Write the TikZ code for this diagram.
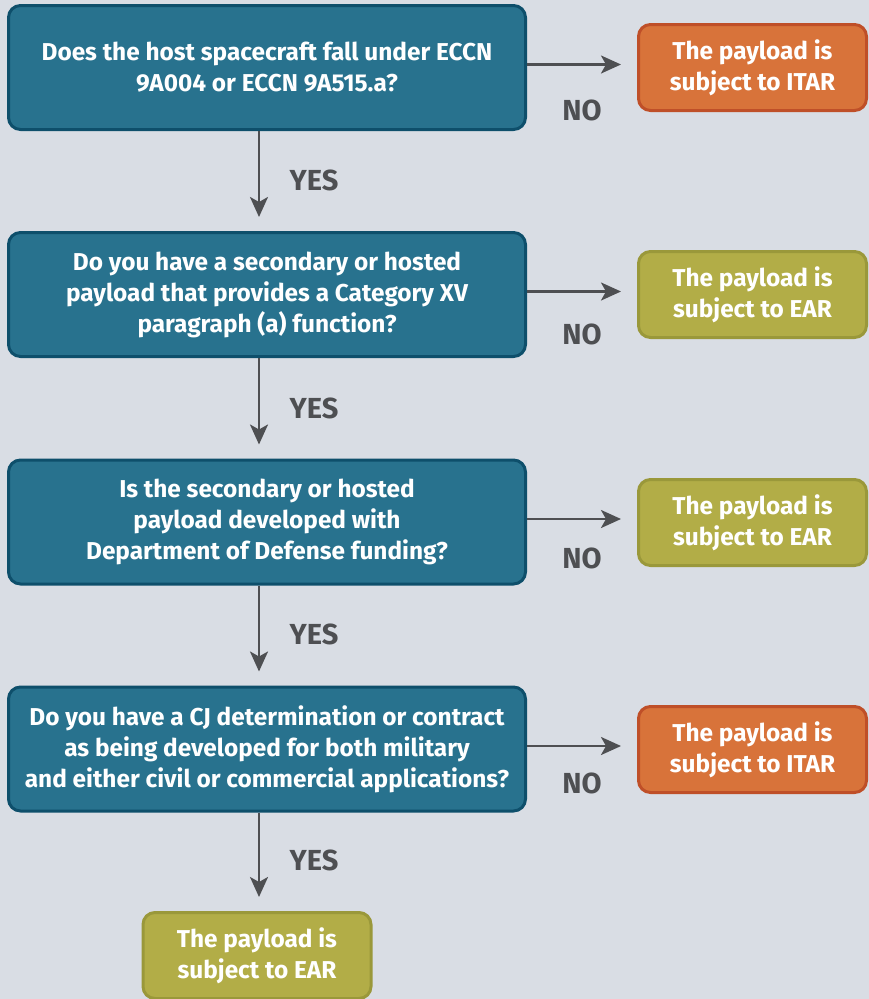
\documentclass[tikz,border=0pt]{standalone}
\usepackage{fontspec}
\setmainfont{Fira Sans}
\usepackage{tikz}
\usetikzlibrary{arrows.meta}

\definecolor{bgc}{HTML}{D9DDE4}
\definecolor{tealfill}{HTML}{28728E}
\definecolor{tealline}{HTML}{0E4F6B}
\definecolor{itarfill}{HTML}{D8733A}
\definecolor{itarline}{HTML}{BF4F28}
\definecolor{earfill}{HTML}{B2AD47}
\definecolor{earline}{HTML}{9A983A}
\definecolor{arrowgray}{HTML}{4E4F52}

\newcommand{\boxfont}{\fontsize{24.4}{31}\selectfont\bfseries}
\newcommand{\labfont}{\fontsize{29}{30}\selectfont\bfseries}

\begin{document}
\begin{tikzpicture}[x=1pt,y=-1pt,
  question/.style={draw=tealline,fill=tealfill,line width=3pt,rounded corners=12pt,
    minimum width=517pt,minimum height=124pt,text=white,font=\boxfont,align=center},
  itar/.style={draw=itarline,fill=itarfill,line width=3pt,rounded corners=12pt,
    minimum width=228pt,minimum height=86pt,text=white,font=\boxfont,align=center},
  ear/.style={itar,draw=earline,fill=earfill},
  arr/.style={draw=arrowgray,line width=2.5pt,-{Stealth[length=20pt,width=18pt,inset=5pt]}},
  lab/.style={text=arrowgray,font=\labfont}]
  \fill[bgc] (0,0) rectangle (869,999);
  \useasboundingbox (0,0) rectangle (869,999);
  % questions
  \node (q1) at (267,67.5) [question] {Does the host spacecraft fall under ECCN\\9A004 or ECCN 9A515.a?};
  \node (q2) at (267,294.5) [question] {Do you have a secondary or hosted\\payload that provides a Category XV\\paragraph (a) function?};
  \node (q3) at (267,522) [question] {Is the secondary or hosted\\payload developed with\\Department of Defense funding?};
  \node (q4) at (267,749) [question] {Do you have a CJ determination or contract\\as being developed for both military\\and either civil or commercial applications?};
  % outcomes
  \node (r1) at (752.5,67.5) [itar] {The payload is\\subject to ITAR};
  \node (r2) at (752.5,294.5) [ear] {The payload is\\subject to EAR};
  \node (r3) at (752.5,522.5) [ear] {The payload is\\subject to EAR};
  \node (r4) at (752.5,749.5) [itar] {The payload is\\subject to ITAR};
  \node (r5) at (257,955.5) [ear] {The payload is\\subject to EAR};
  % arrows
  \draw[arr,shorten >=14pt] ([xshift=-8pt]q1.south) -- ([xshift=-8pt]q1.south |- q2.north);
  \draw[arr,shorten >=14pt] ([xshift=-8pt]q2.south) -- ([xshift=-8pt]q2.south |- q3.north);
  \draw[arr,shorten >=14pt] ([xshift=-8pt]q3.south) -- ([xshift=-8pt]q3.south |- q4.north);
  \draw[arr,shorten >=14pt] ([xshift=-8pt]q4.south) -- ([xshift=-8pt]q4.south |- r5.north);
  \draw[arr,shorten >=16pt] ([yshift=3pt]q1.east) -- ([yshift=3pt]q1.east -| r1.west);
  \draw[arr,shorten >=16pt] ([yshift=3pt]q2.east) -- ([yshift=3pt]q2.east -| r2.west);
  \draw[arr,shorten >=16pt] ([yshift=3pt]q3.east) -- ([yshift=3pt]q3.east -| r3.west);
  \draw[arr,shorten >=16pt] ([yshift=3pt]q4.east) -- ([yshift=3pt]q4.east -| r4.west);
  % labels
  \node (y1) at (314,180) [lab] {YES};
  \node (y2) at (314,408) [lab] {YES};
  \node (y3) at (314,634) [lab] {YES};
  \node (y4) at (314,860) [lab] {YES};
  \node (n1) at (582,110) [lab] {NO};
  \node (n2) at (582,334) [lab] {NO};
  \node (n3) at (582,558) [lab] {NO};
  \node (n4) at (582,783) [lab] {NO};
\end{tikzpicture}
\end{document}
